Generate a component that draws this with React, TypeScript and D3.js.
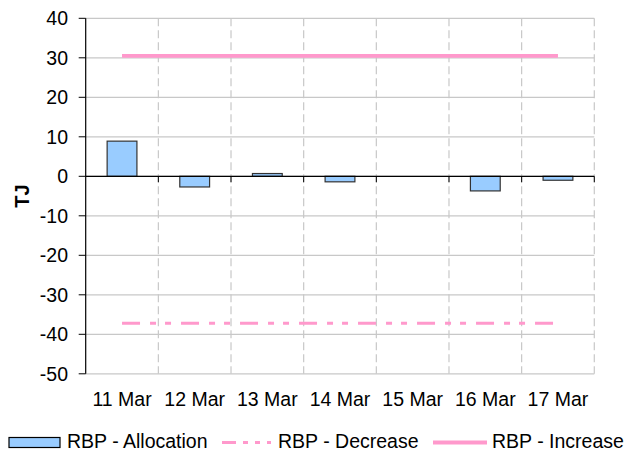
import React from "react";
import * as d3 from "d3";

const categories = ["11 Mar", "12 Mar", "13 Mar", "14 Mar", "15 Mar", "16 Mar", "17 Mar"];
const allocation = [8.9, -2.7, 0.7, -1.4, 0, -3.7, -1.0];
const decrease = [-37.2, -37.2, -37.2, -37.2, -37.2, -37.2, -37.2];
const increase = [30.5, 30.5, 30.5, 30.5, 30.5, 30.5, 30.5];
const yTicks = [40, 30, 20, 10, 0, -10, -20, -30, -40, -50];
const seriesNames = ["RBP - Allocation", "RBP - Decrease", "RBP - Increase"];

const W = 625, H = 452;
const left = 85.7, right = 594.3, top = 18.3, bottom = 373.8;
const FONT = "Liberation Sans, Arial, sans-serif";
const PINK = "#ff99cc";
const FS = 19.5;

export default function App() {
  const x = d3.scaleBand<string>().domain(categories).range([left, right]).padding(0);
  const y = d3.scaleLinear().domain([-50, 40]).range([bottom, top]);
  const bw = x.bandwidth();
  const barW = bw * 0.41;
  const cx = (c: string) => (x(c) as number) + bw / 2;
  const line = d3.line<number>().x((_, i) => cx(categories[i])).y((d) => y(d));
  const bounds = categories.map((c) => (x(c) as number) + bw);

  return (
    <svg width={W} height={H} style={{ position: "absolute", left: 0, top: 0 }} fontFamily={FONT}>
      <rect width={W} height={H} fill="#fff" />
      {yTicks.map((t) => (
        <line key={"h" + t} x1={left} x2={right} y1={y(t)} y2={y(t)} stroke="#c8c8c8" strokeWidth={1.2} />
      ))}
      {bounds.map((b, i) => (
        <line key={"v" + i} x1={b} x2={b} y1={top} y2={bottom} stroke="#c8c8c8" strokeWidth={1.2} strokeDasharray="8,4" />
      ))}
      {allocation.map((v, i) => (
        <rect
          key={"b" + i}
          x={cx(categories[i]) - barW / 2}
          y={Math.min(y(v), y(0))}
          width={barW}
          height={Math.abs(y(v) - y(0))}
          fill="#99ccff"
          stroke="#333"
          strokeWidth={1.2}
        />
      ))}
      <line x1={left} x2={right} y1={y(0)} y2={y(0)} stroke="#000" strokeWidth={1.2} />
      {bounds.map((b, i) => (
        <line key={"xt" + i} x1={b} x2={b} y1={y(0)} y2={y(0) + 6} stroke="#000" strokeWidth={1} />
      ))}
      <line x1={left} x2={left} y1={top} y2={bottom} stroke="#000" strokeWidth={1.2} />
      {yTicks.map((t) => (
        <g key={"yt" + t}>
          <line x1={left - 7} x2={left} y1={y(t)} y2={y(t)} stroke="#000" strokeWidth={1} />
          <text x={68} y={y(t)} dy="0.36em" textAnchor="end" fontSize={FS} fill="#000">
            {t}
          </text>
        </g>
      ))}
      <path d={line(decrease) as string} fill="none" stroke={PINK} strokeWidth={3} strokeDasharray="18,10,6,9,6,10" />
      <path d={line(increase) as string} fill="none" stroke={PINK} strokeWidth={3.8} />
      {categories.map((c) => (
        <text key={"xl" + c} x={cx(c)} y={406} textAnchor="middle" fontSize={FS} fill="#000">
          {c}
        </text>
      ))}
      <text transform={`translate(29,${(top + bottom) / 2}) rotate(-90)`} textAnchor="middle" fontSize={20} fontWeight="bold" fill="#000">
        TJ
      </text>
      <rect x={9} y={437.5} width={51} height={10} fill="#99ccff" stroke="#000" strokeWidth={1.2} />
      <text x={67} y={447.5} fontSize={FS} fill="#000">{seriesNames[0]}</text>
      <line x1={222} x2={271} y1={442.5} y2={442.5} stroke={PINK} strokeWidth={3} strokeDasharray="14,7,5,7,5,7" />
      <text x={278} y={447.5} fontSize={FS} fill="#000">{seriesNames[1]}</text>
      <line x1={433} x2={487} y1={442.5} y2={442.5} stroke={PINK} strokeWidth={3.8} />
      <text x={492} y={447.5} fontSize={FS} fill="#000">{seriesNames[2]}</text>
    </svg>
  );
}
